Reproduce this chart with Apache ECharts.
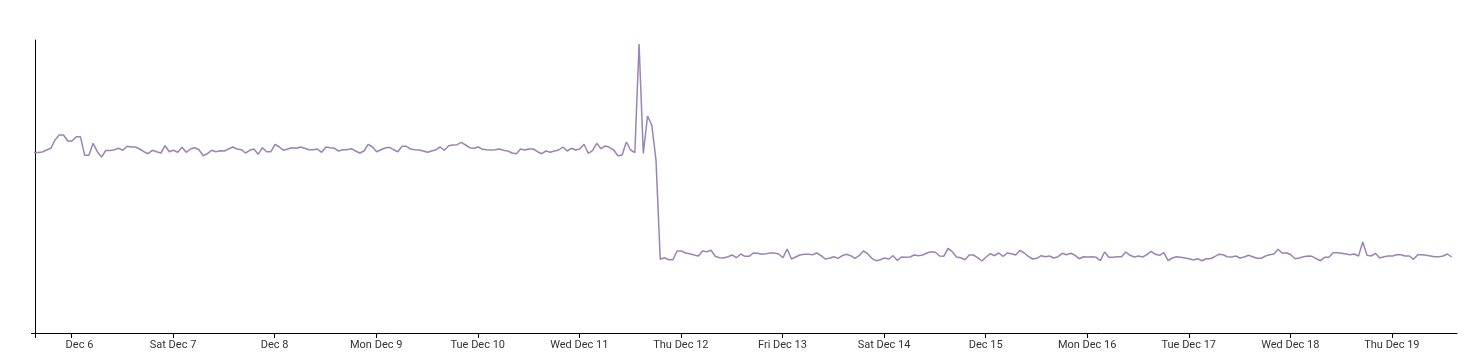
<!DOCTYPE html>
<html>
<head>
<meta charset="utf-8">
<script src="https://cdn.jsdelivr.net/npm/echarts@6/dist/echarts.min.js"></script>
<style>
  html, body { margin: 0; padding: 0; background: #fff; }
  #chart { width: 1469px; height: 364px; }
</style>
</head>
<body>
<div id="chart"></div>
<script>
// ---- data ----
const startTime = new Date(2024, 11, 5, 15, 7).getTime(); // first sample (just before axis start)
const stepHours = 1;                                       // hourly samples
const axisStart = new Date(2024, 11, 5, 15, 23).getTime();
const axisEnd = new Date(2024, 11, 19, 15, 23).getTime();

const valuesBefore = [
  180.5,
  180.5,181,183,184.7,193,198,198,192,192,196.3,196.3,177.7,177.7,189.7,181.3,176,182.5,182.5,
  183.3,184.7,182.7,186.7,186,186,184,181.3,179.3,182.7,181.3,180,187.3,181.3,182.7,180.7,185.7,180.7,
  184,185.3,183.3,177.3,179.3,182.7,181.3,182.3,182,184,186,184,183.3,180,182.7,184,178.7,185.3,
  181.3,181.3,188.7,186,182.7,184,185.3,184.7,186,184.7,183.3,183.3,184,180.7,186,185.3,
  184.7,182,183.3,183.3,184.3,182,180,182,188.7,186,181.3,183.3,185,185.7,183.3,181.3,186.7,186.7,
  184,183.3,183,182,180.7,182,183.3,186,182.7,187.3,188,188.3,190.7,188,185.3,184.7,186,183.7,
  183.3,183,183.3,184,182.7,182,180,179.3,184,183,184,184,181.3,179.3,182,180.7,182,183,186,182,
  184.7,183,184
];
const valuesSpike = [
  188.7,179.7,182.3,189.7,184.3,187,185.7,183,177.3,178,191,183,180.3,289,179.7,217,208,173,73.7
];
const valuesAfter = [
  75.3,73.3,73.3,82,82,80,79.3,78,77,82,81.3,82.7,76.7,75.3,75,76.3,78,75.3,79,76.7,76.7,80,79.7,
  78.7,79.3,80,80,79,75.3,84,74,76,78,78.7,78.7,78.3,80,77.3,74,74.7,76.3,74.7,77.3,78.7,77.3,74.7,
  77.3,82,79.3,74.7,72.3,73.3,75,74,77.3,72.7,76,75.7,76,78,77.3,78,80,81.3,80.7,77,76.7,84.7,81.3,
  76,75.3,73.3,78,78,75.3,72,76,79.3,77.3,80,76.7,80,79.3,78,82.7,80,76.7,74,74.7,77.3,
  76.3,77,75,76.3,79.7,78.3,79.7,77.7,74.3,76.3,76,76.3,75.7,72.3,81,75.7,75.7,76.3,76.3,81,77.7,
  76,77,76,78.3,81.7,78.7,77.7,80.3,72.3,75,76.3,75.7,75,74.3,73,74.3,72.3,74.3,74.3,76.3,78.7,78.3,
  76.3,76,77,75,76,77.7,76.3,74.7,74.7,77,78.3,79,83.7,79.7,80.3,78.3,74.3,75,76.3,77,76.7,74.3,
  72.3,75.7,75.7,80.3,80.3,79.7,79,78.3,79,77,91,77.7,77,79.7,75,76.3,77,77,78.3,78.3,77,77,73.7,
  78.3,78.3,77.7,77,76.3,76.3,77,79,76
];
const values = valuesBefore.concat(valuesSpike, valuesAfter);

const tickDays = [6,7,8,9,10,11,12,13,14,15,16,17,18,19];
const tickLabels = ['Dec 6','Sat Dec 7','Dec 8','Mon Dec 9','Tue Dec 10','Wed Dec 11','Thu Dec 12',
  'Fri Dec 13','Sat Dec 14','Dec 15','Mon Dec 16','Tue Dec 17','Wed Dec 18','Thu Dec 19'];
const yMax = 293;

// ---- build ----
const tickTimes = tickDays.map(d => new Date(2024, 11, d).getTime());
const seriesData = values.map((v, i) => [startTime + i * stepHours * 3600e3, v]);

const chart = echarts.init(document.getElementById('chart'), null, { renderer: 'canvas' });
chart.setOption({
  animation: false,
  backgroundColor: '#fff',
  grid: { left: 35, right: 12, top: 40, bottom: 31, containLabel: false },
  xAxis: {
    type: 'value',
    min: axisStart,
    max: axisEnd,
    axisLine: { show: true, lineStyle: { color: '#000', width: 1 } },
    axisTick: { show: true, customValues: [axisStart].concat(tickTimes), length: 5,
      lineStyle: { color: '#000', width: 1 } },
    axisLabel: {
      customValues: tickTimes,
      color: '#333', fontSize: 11, fontFamily: 'Roboto', margin: 7,
      formatter: function (val) {
        const idx = tickTimes.indexOf(val);
        if (idx < 0) return '';
        return idx === 0 ? '{first|' + tickLabels[idx] + '}' : tickLabels[idx];
      },
      rich: {
        first: { color: '#333', fontSize: 11, fontFamily: 'Roboto', padding: [0, 0, 0, 16] }
      }
    },
    splitLine: { show: false }
  },
  yAxis: {
    type: 'value',
    min: 0,
    max: yMax,
    axisLine: { show: true, lineStyle: { color: '#000', width: 1 } },
    axisTick: { show: true, customValues: [0], length: 4, lineStyle: { color: '#000' } },
    axisLabel: { show: false },
    splitLine: { show: false }
  },
  series: [{
    type: 'line',
    data: seriesData,
    showSymbol: false,
    symbol: 'none',
    clip: true,
    lineStyle: { color: '#9a84b7', width: 1.5 },
    itemStyle: { color: '#9a84b7' }
  }]
});
</script>
</body>
</html>
